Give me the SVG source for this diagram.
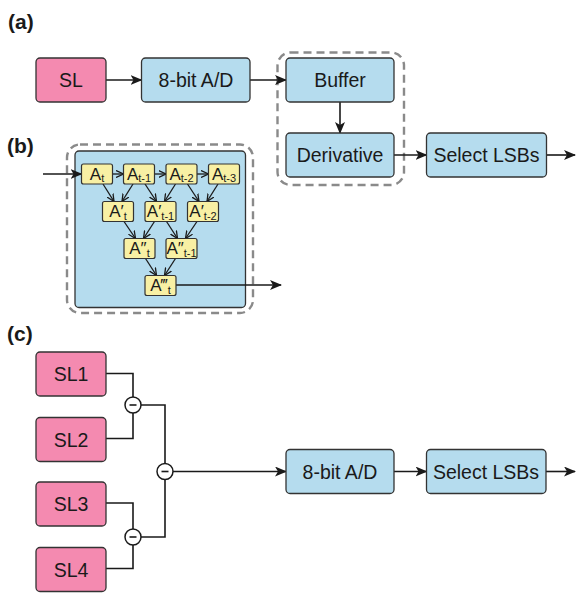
<svg xmlns="http://www.w3.org/2000/svg" width="576" height="593" viewBox="0 0 576 593">
  <style>
    .lbl { font-family: "Liberation Sans", Arial, sans-serif; font-weight: bold; font-size: 21px; fill: #1a1a1a; }
    .box { stroke: #333; stroke-width: 1.3; }
    .pink { fill: #f48ab0; }
    .blue { fill: #b5dcee; }
    .yel { fill: #f8f0a4; stroke: #333; stroke-width: 1.2; }
    .t { font-family: "Liberation Sans", Arial, sans-serif; font-size: 19.5px; fill: #1a1a1a; text-anchor: middle; }
    .s { font-family: "Liberation Sans", "DejaVu Sans", Arial, sans-serif; font-size: 17px; fill: #1a1a1a; text-anchor: middle; }
    .sub { font-size: 11px; }
    .dash { fill: none; stroke: #8a8a8a; stroke-width: 2.4; stroke-dasharray: 8 5; }
    .ln { fill: none; stroke: #1a1a1a; stroke-width: 1.6; }
    .arr { fill: none; stroke: #1a1a1a; stroke-width: 1.6; marker-end: url(#head); }
    .sm { fill: none; stroke: #1a1a1a; stroke-width: 1.3; marker-end: url(#vee); }
    .op { fill: #fff; stroke: #1a1a1a; stroke-width: 1.5; }
  </style>
  <defs>
    <marker id="head" viewBox="0 0 12 10" refX="11" refY="5" markerWidth="12" markerHeight="10" markerUnits="userSpaceOnUse" orient="auto">
      <path d="M0,0 L12,5 L0,10 L3,5 z" fill="#1a1a1a"/>
    </marker>
    <marker id="vee" viewBox="0 0 8 8" refX="7.5" refY="4" markerWidth="8" markerHeight="8" markerUnits="userSpaceOnUse" orient="auto">
      <path d="M0,0.5 L7.5,4 L0,7.5" fill="none" stroke="#1a1a1a" stroke-width="1.3"/>
    </marker>
  </defs>

  <!-- panel labels -->
  <text class="lbl" x="8" y="29">(a)</text>
  <text class="lbl" x="7" y="153">(b)</text>
  <text class="lbl" x="7" y="341">(c)</text>

  <!-- dashed groupings -->
  <rect class="dash" x="277.5" y="52.5" width="126.5" height="132.5" rx="13"/>
  <rect class="dash" x="67" y="144.5" width="186" height="168.5" rx="13"/>

  <!-- panel b container, drawn under its connectors -->
  <g id="diff-block"><rect class="box blue" x="75" y="151" width="170.5" height="156.5" rx="4"/></g>

  <!-- connectors -->
  <g id="connectors">
    <!-- panel a -->
    <line class="arr" x1="106" y1="80" x2="141.5" y2="80"/>
    <line class="arr" x1="250" y1="80" x2="286" y2="80"/>
    <line class="arr" x1="340" y1="102" x2="340" y2="133"/>
    <line class="arr" x1="394" y1="155" x2="426.5" y2="155"/>
    <line class="arr" x1="546.5" y1="155" x2="575" y2="155"/>
    <!-- panel b -->
    <line class="arr" x1="43" y1="174" x2="81.5" y2="174"/>
    <line class="arr" x1="175.5" y1="285" x2="281" y2="285"/>
    <line class="sm" x1="112" y1="174" x2="123.5" y2="174"/>
    <line class="sm" x1="154.5" y1="174" x2="166" y2="174"/>
    <line class="sm" x1="197" y1="174" x2="208.5" y2="174"/>
    <!-- row 1 to row 2 -->
    <line class="sm" x1="103" y1="184" x2="114" y2="201.5"/>
    <line class="sm" x1="133" y1="184" x2="122" y2="201.5"/>
    <line class="sm" x1="145" y1="184" x2="156.5" y2="201.5"/>
    <line class="sm" x1="175.5" y1="184" x2="164.5" y2="201.5"/>
    <line class="sm" x1="187.5" y1="184" x2="199" y2="201.5"/>
    <line class="sm" x1="218" y1="184" x2="207" y2="201.5"/>
    <!-- row 2 to row 3 -->
    <line class="sm" x1="124" y1="221.5" x2="135.5" y2="238.5"/>
    <line class="sm" x1="154.5" y1="221.5" x2="143.5" y2="238.5"/>
    <line class="sm" x1="166.5" y1="221.5" x2="177.5" y2="238.5"/>
    <line class="sm" x1="197" y1="221.5" x2="185.5" y2="238.5"/>
    <!-- row 3 to row 4 -->
    <line class="sm" x1="145.5" y1="258.5" x2="156.5" y2="275.5"/>
    <line class="sm" x1="175.5" y1="258.5" x2="164.5" y2="275.5"/>
    <!-- panel c -->
    <polyline class="ln" points="106,373.5 133,373.5 133,397"/>
    <polyline class="ln" points="106,438.5 133,438.5 133,413"/>
    <polyline class="ln" points="141,405 165,405 165,463"/>
    <polyline class="ln" points="106,503 133,503 133,529"/>
    <polyline class="ln" points="106,568.5 133,568.5 133,545"/>
    <polyline class="ln" points="141,537 165,537 165,479"/>
    <line class="arr" x1="173" y1="471.5" x2="286" y2="471.5"/>
    <line class="arr" x1="394" y1="471.5" x2="426.5" y2="471.5"/>
    <line class="arr" x1="546" y1="471.5" x2="575" y2="471.5"/>
  </g>

  <!-- panel a nodes -->
  <g id="sl"><rect class="box pink" x="36" y="58" width="70" height="44" rx="4"/><text class="t" x="71" y="87">SL</text></g>
  <g id="adc-a"><rect class="box blue" x="141.5" y="58" width="108.5" height="44" rx="4"/><text class="t" x="196" y="87">8-bit A/D</text></g>
  <g id="buffer"><rect class="box blue" x="286" y="58" width="108" height="44" rx="4"/><text class="t" x="340" y="87">Buffer</text></g>
  <g id="derivative"><rect class="box blue" x="286" y="133" width="108" height="44" rx="4"/><text class="t" x="340" y="162">Derivative</text></g>
  <g id="lsb-a"><rect class="box blue" x="426.5" y="133" width="120" height="44" rx="4"/><text class="t" x="486.5" y="162">Select LSBs</text></g>

  <!-- panel b: finite-difference tree -->
  <g id="a-t"><rect class="yel" x="81.5" y="164" width="31" height="20" rx="2"/><text class="s" x="97" y="180">A<tspan class="sub" dy="2">t</tspan></text></g>
  <g id="a-t1"><rect class="yel" x="123.5" y="164" width="31" height="20" rx="2"/><text class="s" x="139" y="180">A<tspan class="sub" dy="2">t-1</tspan></text></g>
  <g id="a-t2"><rect class="yel" x="166" y="164" width="31" height="20" rx="2"/><text class="s" x="181.5" y="180">A<tspan class="sub" dy="2">t-2</tspan></text></g>
  <g id="a-t3"><rect class="yel" x="208.5" y="164" width="31" height="20" rx="2"/><text class="s" x="224" y="180">A<tspan class="sub" dy="2">t-3</tspan></text></g>
  <g id="d1-t"><rect class="yel" x="102.5" y="201.5" width="31" height="20" rx="2"/><text class="s" x="118" y="217">A′<tspan class="sub" dy="3">t</tspan></text></g>
  <g id="d1-t1"><rect class="yel" x="145" y="201.5" width="31" height="20" rx="2"/><text class="s" x="160.5" y="217">A′<tspan class="sub" dy="3">t-1</tspan></text></g>
  <g id="d1-t2"><rect class="yel" x="187.5" y="201.5" width="31" height="20" rx="2"/><text class="s" x="203" y="217">A′<tspan class="sub" dy="3">t-2</tspan></text></g>
  <g id="d2-t"><rect class="yel" x="124" y="238.5" width="31" height="20" rx="2"/><text class="s" x="139.5" y="254">A″<tspan class="sub" dy="3">t</tspan></text></g>
  <g id="d2-t1"><rect class="yel" x="166" y="238.5" width="31" height="20" rx="2"/><text class="s" x="181.5" y="254">A″<tspan class="sub" dy="3">t-1</tspan></text></g>
  <g id="d3-t"><rect class="yel" x="145" y="275.5" width="31" height="20" rx="2"/><text class="s" x="160.5" y="291">A‴<tspan class="sub" dy="3">t</tspan></text></g>

  <!-- panel c nodes -->
  <g id="sl1"><rect class="box pink" x="36" y="352" width="70" height="44" rx="4"/><text class="t" x="71" y="381">SL1</text></g>
  <g id="sl2"><rect class="box pink" x="36" y="417.5" width="70" height="44" rx="4"/><text class="t" x="71" y="446.5">SL2</text></g>
  <g id="sl3"><rect class="box pink" x="36" y="482" width="70" height="44" rx="4"/><text class="t" x="71" y="511">SL3</text></g>
  <g id="sl4"><rect class="box pink" x="36" y="547.5" width="70" height="44" rx="4"/><text class="t" x="71" y="576.5">SL4</text></g>
  <g id="sub1"><circle class="op" cx="133" cy="405" r="8"/><line class="ln" x1="129.5" y1="405" x2="136.5" y2="405"/></g>
  <g id="sub2"><circle class="op" cx="133" cy="537" r="8"/><line class="ln" x1="129.5" y1="537" x2="136.5" y2="537"/></g>
  <g id="sub3"><circle class="op" cx="165" cy="471.5" r="8"/><line class="ln" x1="161.5" y1="471.5" x2="168.5" y2="471.5"/></g>
  <g id="adc-c"><rect class="box blue" x="286" y="449.5" width="108" height="44" rx="4"/><text class="t" x="340" y="478.5">8-bit A/D</text></g>
  <g id="lsb-c"><rect class="box blue" x="426.5" y="449.5" width="119.5" height="44" rx="4"/><text class="t" x="486" y="478.5">Select LSBs</text></g>
</svg>
